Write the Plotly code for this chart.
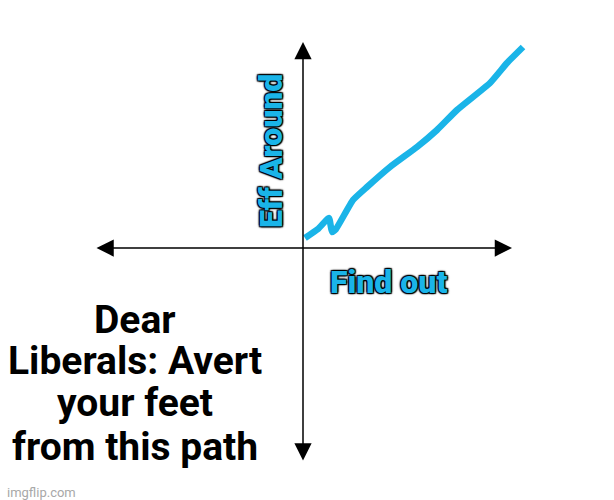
import plotly.graph_objects as go

# hand-drawn path, origin at the axis crossing
path_x = [2, 15, 26, 29, 33, 50, 64, 87, 114, 134, 154, 187, 204, 220]
path_y = [10, 19, 30, 16, 19, 48, 61, 81, 101, 118, 138, 165, 185, 201]

x_axis_ends = [-208, 209]
y_axis_ends = [-214, 206]

y_label = "Eff Around"
x_label = "Find out"
caption_lines = ["Dear", "Liberals: Avert", "your feet", "from this path"]
caption_y = [-72, -113, -155, -199]
watermark = "imgflip.com"

cyan = "#1ab4e8"
# dark outline round the cyan labels
glow = ("1px 1px 1px #000000, -1px -1px 1px #000000, 1px -1px 1px #000000, "
        "-1px 1px 1px #000000, 0px 0px 3px #000000")
label_font = dict(family="Roboto", size=32, color=cyan, weight=900, shadow=glow)

fig = go.Figure()
fig.add_trace(go.Scatter(x=path_x, y=path_y, mode="lines",
                         line=dict(color=cyan, width=6.5, shape="spline", smoothing=0.4),
                         hoverinfo="skip", showlegend=False))

annos = []
# axes with arrowheads on both ends
annos.append(dict(x=x_axis_ends[1], y=0, ax=x_axis_ends[0], ay=0, xref="x", yref="y",
                  axref="x", ayref="y", text="", showarrow=True, arrowside="end+start",
                  arrowhead=2, arrowsize=2.3, arrowwidth=1.5, arrowcolor="#000000"))
annos.append(dict(x=0, y=y_axis_ends[1], ax=0, ay=y_axis_ends[0], xref="x", yref="y",
                  axref="x", ayref="y", text="", showarrow=True, arrowside="end+start",
                  arrowhead=2, arrowsize=2.3, arrowwidth=1.5, arrowcolor="#000000"))

annos.append(dict(x=-32, y=97, xref="x", yref="y", text=y_label, textangle=-90,
                  showarrow=False, font=label_font))
annos.append(dict(x=85, y=-34, xref="x", yref="y", text=x_label, showarrow=False,
                  font=label_font))
for line, yy in zip(caption_lines, caption_y):
    annos.append(dict(x=-168, y=yy, xref="x", yref="y", text=line, showarrow=False,
                      font=dict(family="Roboto", size=39, color="#000000", weight="bold")))
annos.append(dict(x=-298, y=-244, xref="x", yref="y", text=watermark, showarrow=False,
                  xanchor="left", font=dict(family="Roboto", size=13, color="#a8a8a8")))

fig.update_layout(
    width=614, height=500,
    margin=dict(l=0, r=0, t=0, b=0),
    paper_bgcolor="#ffffff", plot_bgcolor="#ffffff",
    annotations=annos,
    xaxis=dict(range=[-303, 311], visible=False, fixedrange=True),
    yaxis=dict(range=[-252, 248], visible=False, fixedrange=True),
)

fig.write_html("out.html", config={"displayModeBar": False},
               post_script="document.body.style.margin='0px';")
